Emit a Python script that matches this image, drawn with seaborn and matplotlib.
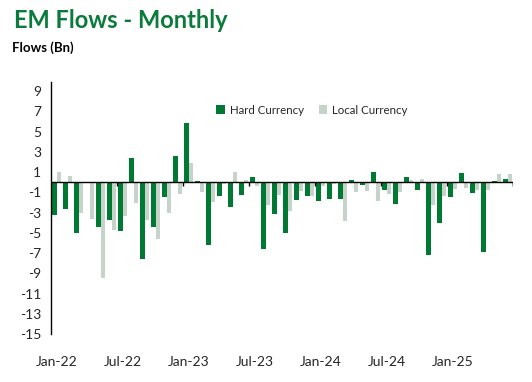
import numpy as np
import pandas as pd
import matplotlib
matplotlib.use("Agg")
import matplotlib.pyplot as plt
import seaborn as sns

months = pd.date_range("2022-01-01", periods=42, freq="MS").strftime("%b-%y").tolist()
hard = [-3.2, -2.6, -5.0, 0.0, -4.4, -3.7, -4.8, 2.4, -7.6, -4.4, -1.5, 2.6,
        5.8, 0.1, -6.2, -1.4, -2.5, -1.3, 0.5, -6.6, -3.1, -5.0, -1.8, -1.4,
        -1.9, -1.7, -1.7, 0.2, -0.3, 1.0, -0.8, -2.2, 0.5, -0.8, -7.2, -4.0,
        -1.5, 0.9, -1.1, -6.9, 0.1, 0.3]
local = [1.0, 0.6, -3.0, -3.6, -9.5, -4.7, -3.3, -2.1, -3.7, -5.6, -3.0, -1.2,
         1.9, -1.0, -2.0, -0.15, 1.0, 0.2, -0.4, -2.3, -1.3, -2.8, -0.9, -1.4,
         -0.4, -0.2, -3.8, -1.0, -0.9, -1.9, -1.2, -1.0, 0.2, 0.3, -2.3, -1.4,
         -0.7, -0.6, -0.8, -0.8, 0.8, 0.8]
series_names = ["Hard Currency", "Local Currency"]
colors = ["#007A33", "#C5D3C9"]
yticks = list(range(-15, 10, 2))

df = pd.DataFrame({
    "Month": months * 2,
    "Series": [series_names[0]] * len(months) + [series_names[1]] * len(months),
    "Flow": hard + local,
})

sns.set_style("white")
plt.rcParams["font.family"] = ["Lato", "DejaVu Sans"]

fig = plt.figure(figsize=(5.32, 3.82), dpi=100)
ax = fig.add_axes([51 / 532, 1 - 334 / 382, (513 - 51) / 532, (334 - 82) / 382])

sns.barplot(data=df, x="Month", y="Flow", hue="Series", order=months,
            hue_order=series_names, palette=colors, width=0.8,
            saturation=1, linewidth=0, ax=ax, legend=True)

ax.set_xlim(-0.5, len(months) - 0.5)
ax.set_ylim(-15, 9.9)
ax.set_yticks(yticks)
ax.set_yticklabels([str(t) for t in yticks], fontsize=10)
tick_idx = [i for i in range(len(months)) if i % 6 == 0]
ax.set_xticks(tick_idx)
ax.set_xticklabels([months[i] for i in tick_idx], fontsize=10)
ax.tick_params(axis="x", length=0, pad=16)
ax.tick_params(axis="y", length=0, pad=7)
ax.set_xlabel("")
ax.set_ylabel("")

for s in ["top", "right", "bottom"]:
    ax.spines[s].set_visible(False)
ax.spines["left"].set_color("black")
ax.spines["left"].set_linewidth(1.0)
ax.axhline(0, color="black", linewidth=1.0, zorder=3)
# small category-boundary tick marks on zero line
bounds = [i - 0.5 for i in range(6, len(months) + 1, 6)] + [len(months) - 0.5]
ax.vlines(bounds, -0.35, 0, color="black", linewidth=1.0, zorder=3)

handles, labels = ax.get_legend_handles_labels()
ax.legend(handles, labels, loc="center", bbox_to_anchor=(0.586, 0.712),
          bbox_transform=fig.transFigure, ncol=2, frameon=False, fontsize=8.3,
          handlelength=0.75, handleheight=0.75, handletextpad=0.4,
          columnspacing=1.3)

fig.text(14 / 532, 1 - 21 / 382, "EM Flows - Monthly", fontsize=17,
         fontweight="bold", color="#0A7B3A", va="center", ha="left")
fig.text(12 / 532, 1 - 48 / 382, "Flows (Bn)", fontsize=9.5,
         fontweight="bold", color="black", va="center", ha="left")

fig.savefig("out.png", dpi=100)
